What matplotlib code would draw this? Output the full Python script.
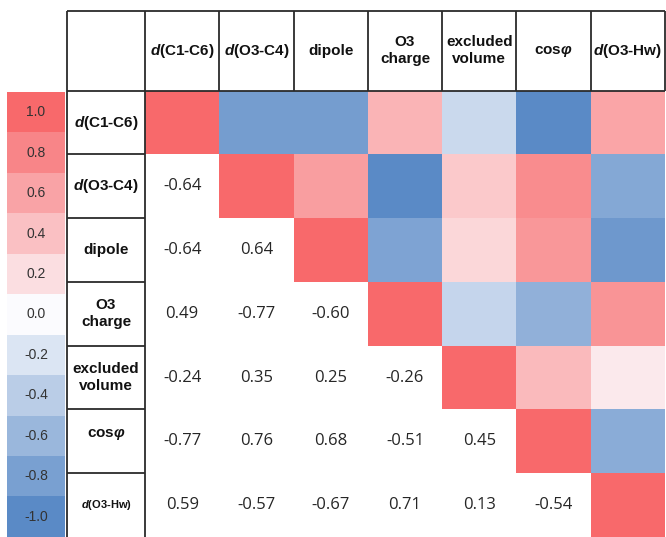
import numpy as np
import matplotlib
matplotlib.use('Agg')
import matplotlib.pyplot as plt
from matplotlib.colors import LinearSegmentedColormap, TwoSlopeNorm, Normalize

plt.rcParams['font.family'] = ['Liberation Sans', 'DejaVu Sans']
plt.rcParams['mathtext.fontset'] = 'custom'
plt.rcParams['mathtext.it'] = 'Liberation Sans:italic:bold'
plt.rcParams['mathtext.rm'] = 'Liberation Sans:bold'
plt.rcParams['mathtext.bf'] = 'Liberation Sans:bold'

# variable names (columns and rows)
col_labels = [r'$d$(C1-C6)', r'$d$(O3-C4)', 'dipole', 'O3\ncharge',
              'excluded\nvolume', r'cos$\varphi$', r'$d$(O3-Hw)']
row_labels = [r'$d$(C1-C6)', r'$d$(O3-C4)', 'dipole', 'O3\ncharge',
              'excluded\nvolume', r'cos$\varphi$', r'$d$(O3-Hw)']

# lower triangle of the correlation matrix, row by row
corr_rows = [
    [1.00],
    [-0.64, 1.00],
    [-0.64, 0.64, 1.00],
    [0.49, -0.77, -0.60, 1.00],
    [-0.24, 0.35, 0.25, -0.26, 1.00],
    [-0.77, 0.76, 0.68, -0.51, 0.45, 1.00],
    [0.59, -0.57, -0.67, 0.71, 0.13, -0.54, 1.00],
]

# colour key values
key_values = [1.0, 0.8, 0.6, 0.4, 0.2, 0.0, -0.2, -0.4, -0.6, -0.8, -1.0]

n = len(corr_rows)
corr = np.zeros((n, n))
for i, row in enumerate(corr_rows):
    for j, v in enumerate(row):
        corr[i, j] = v
        corr[j, i] = v

cmap = LinearSegmentedColormap.from_list('excel', ['#5A8AC6', '#FCFCFF', '#F8696B'])

fig = plt.figure(figsize=(6.66, 5.37), dpi=100)

# ---- correlation table ----
ax = fig.add_axes([67 / 666, 0, 598 / 666, 526 / 537])
lab_w = 1.05
head_h = 1.25

upper = np.ma.masked_where(np.tril(np.ones((n, n)), -1).astype(bool), corr)
norm = TwoSlopeNorm(vmin=corr.min(), vcenter=0, vmax=corr.max())
ax.pcolormesh(np.arange(n + 1), np.arange(n + 1), upper, cmap=cmap, norm=norm)

for i in range(n):
    for j in range(i):
        ax.text(j + 0.5, i + 0.5, '%.2f' % corr[i, j], ha='center', va='center',
                fontsize=12, color='#262626', family='Open Sans')

for j, lab in enumerate(col_labels):
    ax.text(j + 0.5, -head_h / 2, lab, ha='center', va='center', fontsize=11,
            fontweight='bold', color='#111111', linespacing=1.25)

for i, lab in enumerate(row_labels):
    fs = 8 if i == n - 1 else 11
    dy = -0.12 if i == n - 2 else 0
    ax.text(-lab_w / 2, i + 0.5 + dy, lab, ha='center', va='center', fontsize=fs,
            fontweight='bold', color='#111111', linespacing=1.25)

lc = '#2b2b2b'
lw = 1.3
ax.hlines([-head_h, 0], -lab_w, n, color=lc, lw=lw, clip_on=False)
ax.vlines([-lab_w, 0], -head_h, n, color=lc, lw=lw, clip_on=False)
ax.vlines(np.arange(1, n + 1), -head_h, 0, color=lc, lw=lw, clip_on=False)
ax.hlines(np.arange(1, n), -lab_w, 0, color=lc, lw=lw, clip_on=False)

ax.set_xlim(-lab_w, n)
ax.set_ylim(n, -head_h)
ax.axis('off')

# ---- colour key ----
kax = fig.add_axes([7 / 666, 0, 58 / 666, 445 / 537])
kv = np.array(key_values).reshape(-1, 1)
kax.imshow(kv, cmap=cmap, norm=Normalize(-1, 1), aspect='auto',
           extent=(0, 1, len(key_values), 0))
for k, v in enumerate(key_values):
    kax.text(0.5, k + 0.5, '%.1f' % v, ha='center', va='center',
             fontsize=10, color='#333333')
kax.set_xlim(0, 1)
kax.set_ylim(len(key_values), 0)
kax.axis('off')

fig.savefig('out.png', dpi=100)
